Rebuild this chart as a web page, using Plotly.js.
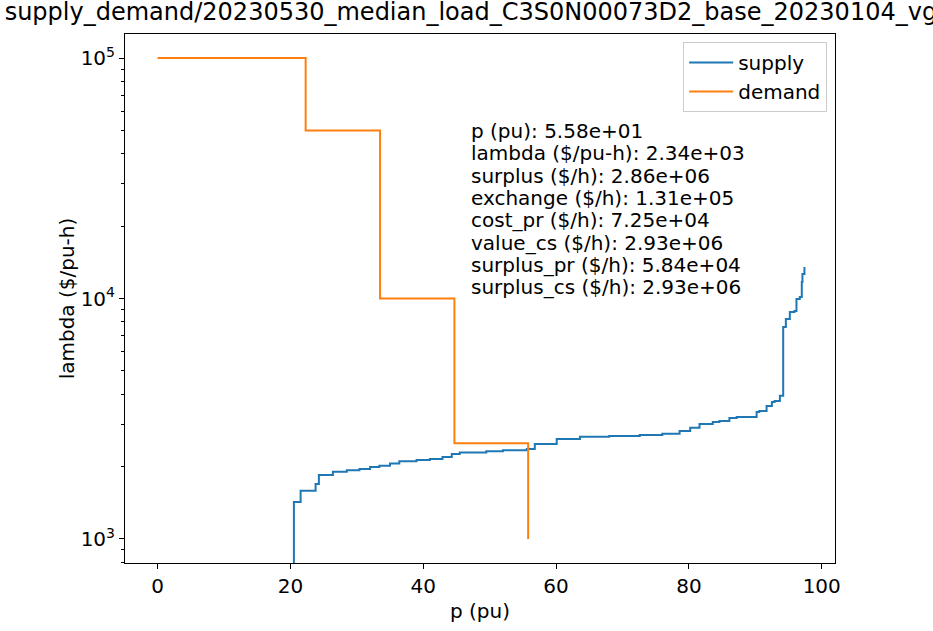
<!DOCTYPE html>
<html>
<head>
<meta charset="utf-8">
<script src="https://cdn.plot.ly/plotly-3.0.1.min.js"></script>
<style>html,body{margin:0;padding:0;background:#fff;}#chart{width:933px;height:631px;}</style>
</head>
<body>
<div id="chart"></div>
<script>
// Supply curve (step, horizontal then vertical)
const supplyP = [20.53, 20.53, 21.54, 23.8, 24.29, 26.4, 28.5, 30.4, 32.0, 33.4, 35.0, 36.4, 39.0, 41.0, 42.9, 44.3, 45.5, 49.5, 52.0, 55.6, 56.8, 60.1, 63.6, 68.0, 72.6, 76.0, 78.6, 80.2, 81.6, 83.6, 84.6, 86.1, 87.2, 90.2, 90.6, 91.7, 92.5, 92.9, 93.7, 94.2, 94.2, 94.6, 95.2, 95.9, 96.2, 96.7, 97.0, 97.1, 97.4];
const supplyLambda = [500, 1426, 1585, 1694, 1847, 1905, 1930, 1954, 1990, 2018, 2060, 2104, 2130, 2152, 2190, 2256, 2290, 2316, 2340, 2368, 2483, 2605, 2663, 2680, 2705, 2740, 2811, 2900, 3006, 3064, 3096, 3186, 3215, 3373, 3406, 3573, 3714, 3750, 3936, 4210, 7609, 8219, 8790, 8875, 9956, 10150, 11710, 12650, 13520];
// Demand curve (step)
const demandP = [0, 22.3, 33.5, 44.7, 55.8];
const demandLambda = [100000, 50000, 10000, 2500, 1000];
// Summary text
const statLabels = ["p (pu)", "lambda ($/pu-h)", "surplus ($/h)", "exchange ($/h)", "cost_pr ($/h)", "value_cs ($/h)", "surplus_pr ($/h)", "surplus_cs ($/h)"];
const statValues = ["5.58e+01", "2.34e+03", "2.86e+06", "1.31e+05", "7.25e+04", "2.93e+06", "5.84e+04", "2.93e+06"];
const yTickVals = [1000, 10000, 100000];
const yTickText = ["10<sup>3</sup>", "10<sup>4</sup>", "10<sup>5</sup>"];
const xTickVals = [0, 20, 40, 60, 80, 100];

const minorVals = [];
[100, 1000, 10000, 100000].forEach(d => { for (let k = 2; k <= 9; k++) minorVals.push(d * k); });

const font = "DejaVu Sans, sans-serif";
const fs = 20;
const traces = [
  {x: supplyP, y: supplyLambda, name: "supply", mode: "lines", line: {shape: "hv", color: "#1f77b4", width: 2}},
  {x: demandP, y: demandLambda, name: "demand", mode: "lines", line: {shape: "hv", color: "#ff7f0e", width: 2}}
];
const plotH = 631 - 34 - 68;
const annotations = statLabels.map((l, i) => ({
  xref: "paper", yref: "paper", x: 0.484, y: 0.8166 - i * 22.3 / plotH,
  xanchor: "left", yanchor: "middle", align: "left", showarrow: false,
  text: l + ": " + statValues[i],
  font: {family: font, size: fs, color: "#000"}
}));
const layout = {
  width: 933, height: 631,
  margin: {l: 125, r: 98, t: 34, b: 68},
  paper_bgcolor: "#fff", plot_bgcolor: "#fff",
  font: {family: font, size: fs, color: "#000"},
  title: {text: "supply_demand/20230530_median_load_C3S0N00073D2_base_20230104_vg", xref: "container", x: 0.005, xanchor: "left", yref: "container", y: 0.995, yanchor: "top", font: {family: font, size: 24, color: "#000"}},
  xaxis: {range: [-4.9, 102.0], tickvals: xTickVals, ticks: "outside", ticklen: 5, tickwidth: 1, tickcolor: "#000",
          showline: true, mirror: true, linecolor: "#000", linewidth: 1, showgrid: false, zeroline: false,
          title: {text: "p (pu)", font: {family: font, size: fs}, standoff: 6}, tickfont: {family: font, size: fs}},
  yaxis: {type: "log", range: [2.9, 5.1], tickvals: yTickVals, ticktext: yTickText, ticks: "outside", ticklen: 5, tickwidth: 1, tickcolor: "#000",
          minor: {tickvals: minorVals, ticks: "outside", ticklen: 3, tickcolor: "#000", showgrid: false},
          showline: true, mirror: true, linecolor: "#000", linewidth: 1, showgrid: false, zeroline: false,
          title: {text: "lambda ($/pu-h)", font: {family: font, size: fs}, standoff: 0}, tickfont: {family: font, size: fs}},
  showlegend: true,
  legend: {x: 0.989, xanchor: "right", y: 0.985, yanchor: "top", bgcolor: "rgba(255,255,255,0.8)", bordercolor: "#cccccc", borderwidth: 1, font: {family: font, size: fs}, tracegroupgap: 0, itemwidth: 44},
  annotations: annotations
};
Plotly.newPlot("chart", traces, layout, {displayModeBar: false, staticPlot: true});
</script>
</body>
</html>
